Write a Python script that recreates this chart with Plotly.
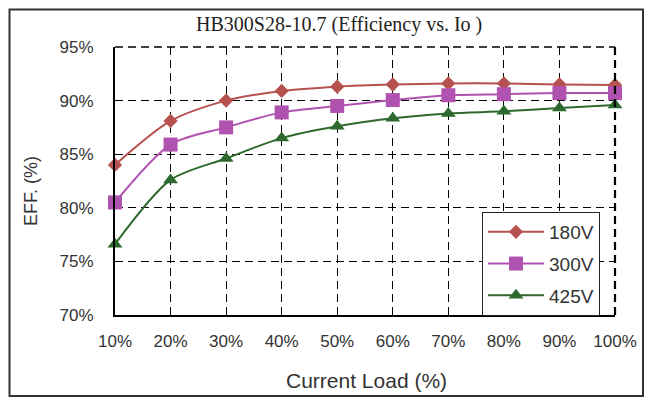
import plotly.graph_objects as go

# Efficiency vs. output current for three input voltages
load_pct = [10, 20, 30, 40, 50, 60, 70, 80, 90, 100]
tick_labels = ["10%", "20%", "30%", "40%", "50%", "60%", "70%", "80%", "90%", "100%"]
eff_180v = [84.0, 88.1, 90.0, 90.9, 91.3, 91.5, 91.6, 91.6, 91.5, 91.45]
eff_300v = [80.5, 85.9, 87.5, 88.9, 89.5, 90.05, 90.5, 90.6, 90.7, 90.7]
eff_425v = [76.6, 82.6, 84.6, 86.5, 87.6, 88.35, 88.8, 89.0, 89.3, 89.6]
y_ticks = [70, 75, 80, 85, 90, 95]
y_tick_labels = ["70%", "75%", "80%", "85%", "90%", "95%"]

W, H = 651, 397
# plot area in pixels
PX0, PX1, PY0, PY1 = 115, 615, 47, 315

series = [
    ("180V", eff_180v, "#B5524F", "diamond", 11),
    ("300V", eff_300v, "#B052B0", "square", 14),
    ("425V", eff_425v, "#2E6A2E", "triangle-up", 13),
]

fig = go.Figure()
for i, (name, vals, color, sym, size) in enumerate(series):
    fig.add_trace(go.Scatter(
        x=load_pct, y=vals, name=name, mode="lines+markers",
        line=dict(color=color, width=2, shape="spline", smoothing=0.8),
        marker=dict(symbol=sym, size=size, color=color),
        cliponaxis=False, legendgroup=f"g{i}",
    ))

tick_font = dict(family="Liberation Sans, Arial, sans-serif", size=17, color="#333333")
grid_dash = "8px,5px"

fig.update_layout(
    width=W, height=H,
    margin=dict(l=0, r=0, t=0, b=0, autoexpand=False),
    paper_bgcolor="white", plot_bgcolor="white",
    showlegend=True,
    legend=dict(
        x=482 / W, y=1 - 212 / H, xanchor="left", yanchor="top",
        bordercolor="#222222", borderwidth=1, bgcolor="white",
        font=dict(family="Liberation Sans, Arial, sans-serif", size=19, color="#333333"),
        itemwidth=56, tracegroupgap=4,
    ),
    xaxis=dict(
        domain=[PX0 / W, PX1 / W], range=[10, 100], automargin=False,
        tickmode="array", tickvals=load_pct, ticktext=tick_labels,
        showgrid=True, gridcolor="black", griddash=grid_dash, gridwidth=1.3,
        showline=True, linecolor="black", linewidth=1.5,
        ticks="inside", ticklen=8, tickcolor="black", tickwidth=1.3,
        ticklabelstandoff=10, tickfont=tick_font, zeroline=False,
    ),
    yaxis=dict(
        domain=[1 - PY1 / H, 1 - PY0 / H], range=[70, 95], automargin=False,
        tickmode="array", tickvals=y_ticks, ticktext=y_tick_labels,
        showgrid=True, gridcolor="black", griddash=grid_dash, gridwidth=1.3,
        showline=True, linecolor="black", linewidth=2,
        ticks="", ticklabelstandoff=16, tickfont=tick_font, zeroline=False,
    ),
)

# dashed top and right edges of the plot area, and the outer frame
fig.add_shape(type="line", xref="paper", yref="paper",
              x0=PX0 / W, x1=PX1 / W, y0=1 - PY0 / H, y1=1 - PY0 / H,
              line=dict(color="black", width=1.5, dash=grid_dash))
fig.add_shape(type="line", xref="paper", yref="paper",
              x0=PX1 / W, x1=PX1 / W, y0=1 - PY1 / H, y1=1 - PY0 / H,
              line=dict(color="black", width=2.2, dash=grid_dash))
fig.add_shape(type="rect", xref="paper", yref="paper",
              x0=9.5 / W, x1=643 / W, y0=1 - 396 / H, y1=1 - 9.5 / H,
              line=dict(color="#333333", width=2), layer="below")

fig.add_annotation(
    text="HB300S28-10.7 (Efficiency vs. Io )", xref="paper", yref="paper",
    x=339 / W, y=1 - 25 / H, xanchor="center", yanchor="middle", showarrow=False,
    font=dict(family="Liberation Serif, Times New Roman, serif", size=20, color="#222222"),
)
fig.add_annotation(
    text="Current Load (%)", xref="paper", yref="paper",
    x=366 / W, y=1 - 380 / H, xanchor="center", yanchor="middle", showarrow=False,
    font=dict(family="Liberation Sans, Arial, sans-serif", size=21, color="#333333"),
)
fig.add_annotation(
    text="EFF. (%)", xref="paper", yref="paper", textangle=-90,
    x=31 / W, y=1 - 191 / H, xanchor="center", yanchor="middle", showarrow=False,
    font=dict(family="Liberation Sans, Arial, sans-serif", size=18, color="#333333"),
)

fig.write_html("out.html")
